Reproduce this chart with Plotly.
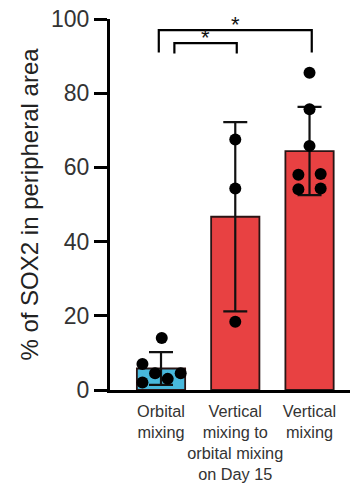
import plotly.graph_objects as go

# Groups and measurements (% of SOX2 in peripheral area)
categories = ["Orbital<br>mixing",
              "Vertical<br>mixing to<br>orbital mixing<br>on Day 15",
              "Vertical<br>mixing"]
means = [5.8, 46.7, 64.4]
sds = [4.4, 25.5, 11.9]
points = [
    [14.0, 7.0, 4.5, 2.0, 3.0, 4.5],
    [67.5, 54.3, 18.4],
    [85.5, 75.7, 65.8, 58.0, 58.2, 54.1, 54.3],
]
# horizontal spread of the dots within each bar (category units)
jitter = [
    [0.01, -0.25, -0.08, -0.25, 0.09, 0.265],
    [0.0, 0.0, 0.0],
    [0.0, 0.0, 0.0, -0.15, 0.15, -0.15, 0.15],
]
bar_colors = ["#48B8DC", "#E84142", "#E84142"]

# significance brackets: (left group, right group, height, tick length)
brackets = [(0.18, 1.02, 93.5, 2.8), (-0.03, 2.03, 97.0, 6.0)]
stars = ["*", "*"]

fig = go.Figure()

fig.add_trace(go.Bar(
    x=list(range(len(categories))), y=means, width=0.65,
    marker=dict(color=bar_colors, line=dict(color="#2a1414", width=1.8)),
    error_y=dict(type="data", array=sds, symmetric=True,
                 color="#111111", thickness=2.2, width=12),
    showlegend=False,
))

for i, vals in enumerate(points):
    fig.add_trace(go.Scatter(
        x=[i + j for j in jitter[i]], y=vals, mode="markers",
        marker=dict(color="black", size=12),
        showlegend=False, cliponaxis=False,
    ))

for (x0, x1, h, d), s in zip(brackets, stars):
    fig.add_shape(type="path",
                  path=f"M {x0},{h - d} L {x0},{h} L {x1},{h} L {x1},{h - d}",
                  line=dict(color="black", width=2.2))
    fig.add_annotation(x=(x0 + x1) / 2, y=h, text=s, showarrow=False,
                       yanchor="bottom", yshift=-9,
                       font=dict(size=22, color="#111111"))

fig.update_layout(
    width=354, height=488,
    margin=dict(l=110, r=4, t=19, b=98),
    paper_bgcolor="white", plot_bgcolor="white",
    font=dict(family="Liberation Sans, Arial, sans-serif", color="#333333"),
    bargap=0.35,
)
fig.update_xaxes(
    range=[-0.687, 2.545], tickvals=list(range(len(categories))),
    ticktext=categories, showline=True, linecolor="black", linewidth=3,
    ticks="", showgrid=False, zeroline=False, tickangle=0, automargin=False,
    ticklabelstandoff=4,
    tickfont=dict(size=16.3, color="#333333"),
)
fig.update_yaxes(
    range=[0, 100], tickvals=[0, 20, 40, 60, 80, 100],
    showline=True, linecolor="black", linewidth=3,
    ticks="outside", ticklen=13, tickwidth=3, tickcolor="black",
    showgrid=False, zeroline=False, automargin=False,
    tickfont=dict(size=23, color="#333333"),
    title=dict(text="% of SOX2 in peripheral area",
               font=dict(size=24, color="#222222"), standoff=6),
)

fig.write_html("out.html")
